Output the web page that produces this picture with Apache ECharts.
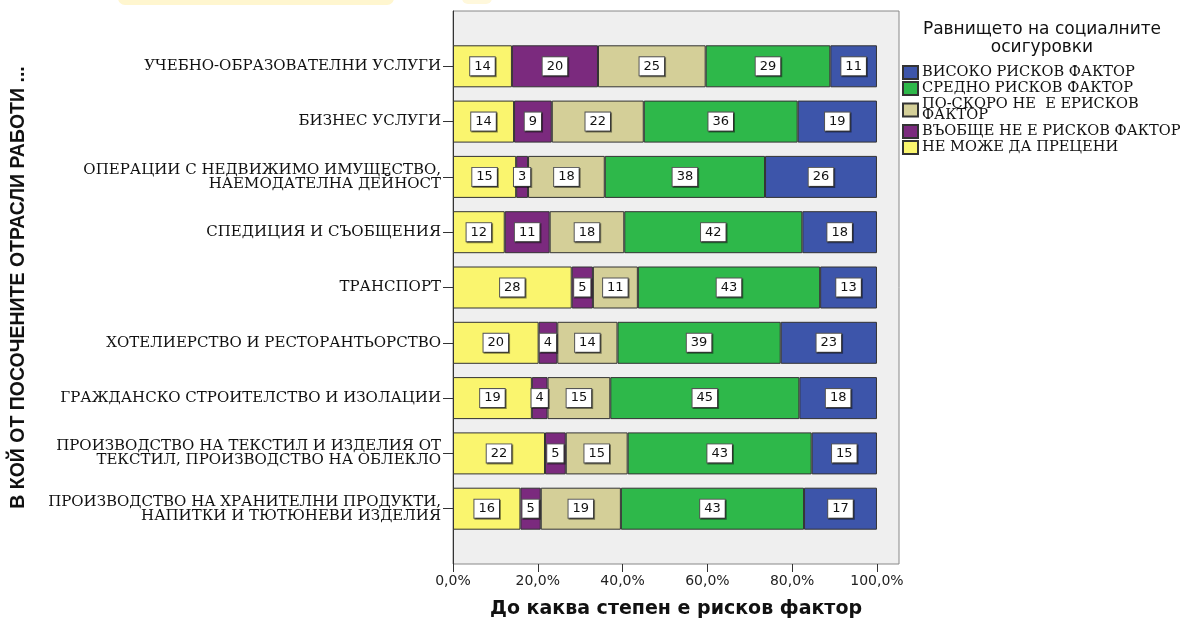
<!DOCTYPE html>
<html>
<head>
<meta charset="utf-8">
<script src="https://cdn.jsdelivr.net/npm/echarts@6/dist/echarts.min.js"></script>
<style>
  html, body { margin: 0; padding: 0; background: #fff; }
  #chart { width: 1190px; height: 624px; }
</style>
</head>
<body>
<div id="chart"></div>
<script>
// Categories, top to bottom
const categories = [
  'УЧЕБНО-ОБРАЗОВАТЕЛНИ УСЛУГИ',
  'БИЗНЕС УСЛУГИ',
  'ОПЕРАЦИИ С НЕДВИЖИМО ИМУЩЕСТВО,\nНАЕМОДАТЕЛНА ДЕЙНОСТ',
  'СПЕДИЦИЯ И СЪОБЩЕНИЯ',
  'ТРАНСПОРТ',
  'ХОТЕЛИЕРСТВО И РЕСТОРАНТЬОРСТВО',
  'ГРАЖДАНСКО СТРОИТЕЛСТВО И ИЗОЛАЦИИ',
  'ПРОИЗВОДСТВО НА ТЕКСТИЛ И ИЗДЕЛИЯ ОТ\nТЕКСТИЛ, ПРОИЗВОДСТВО НА ОБЛЕКЛО',
  'ПРОИЗВОДСТВО НА ХРАНИТЕЛНИ ПРОДУКТИ,\nНАПИТКИ И ТЮТЮНЕВИ ИЗДЕЛИЯ'
];

// Percent shares (stacked left to right)
const cantJudge = [13.9, 14.4, 14.9, 12.2, 28.0, 20.2, 18.6, 21.7, 15.9];
const notAtAll  = [20.3, 8.9, 2.8, 10.6, 5.0, 4.4, 3.7, 4.9, 4.8];
const ratherNot = [25.4, 21.7, 18.1, 17.6, 10.6, 14.2, 14.8, 14.6, 18.9];
const medium    = [29.4, 36.3, 37.8, 42.0, 43.0, 38.5, 44.6, 43.4, 43.2];
const high      = [11.0, 18.7, 26.4, 17.6, 13.4, 22.7, 18.3, 15.4, 17.2];

const xTicks = [0, 20, 40, 60, 80, 100];

const seriesDefs = [
  { name: 'НЕ МОЖЕ ДА ПРЕЦЕНИ', data: cantJudge, color: '#faf56e' },
  { name: 'ВЪОБЩЕ НЕ Е РИСКОВ ФАКТОР', data: notAtAll, color: '#7b2a7e' },
  { name: 'ПО-СКОРО НЕ  Е ЕРИСКОВ\nФАКТОР', data: ratherNot, color: '#d4cf98' },
  { name: 'СРЕДНО РИСКОВ ФАКТОР', data: medium, color: '#2eb84a' },
  { name: 'ВИСОКО РИСКОВ ФАКТОР', data: high, color: '#3d55aa' }
];

// half-band padding above and below the bars
const yData = [''].concat(categories, ['']);
const pad = arr => [null].concat(arr, [null]);

const chart = echarts.init(document.getElementById('chart'));

chart.setOption({
  animation: false,
  grid: {
    left: 453, right: 291, top: 11, bottom: 60,
    show: true, backgroundColor: '#efefef',
    borderColor: '#888', borderWidth: 1
  },
  graphic: [
    { type: 'rect', shape: { x: 118, y: -10, width: 276, height: 15, r: 7 }, style: { fill: '#fff6cf' }, z: -1 },
    { type: 'rect', shape: { x: 462, y: -10, width: 30, height: 14, r: 6 }, style: { fill: '#fff8dc' }, z: -1 },
    {
      type: 'text', x: 1042, y: 21,
      style: {
        text: 'Равнището на социалните\nосигуровки',
        font: '17px "DejaVu Sans"', fill: '#111',
        align: 'center', lineHeight: 18
      }
    }
  ],
  legend: {
    orient: 'vertical', left: 897, top: 60,
    icon: 'rect',
    itemWidth: 15, itemHeight: 13, itemGap: 1,
    data: seriesDefs.map(s => s.name).reverse(),
    textStyle: { fontFamily: 'DejaVu Serif', fontSize: 14.6, color: '#111', lineHeight: 11, padding: [0, 0, 0, -1] }
  },
  xAxis: {
    type: 'value', min: 0, max: 105.2,
    name: 'До каква степен е рисков фактор',
    nameLocation: 'middle', nameGap: 36,
    nameTextStyle: { fontFamily: 'DejaVu Sans', fontWeight: 'bold', fontSize: 19, color: '#111' },
    splitLine: { show: false },
    axisLine: { lineStyle: { color: '#333' } },
    axisTick: { show: true, length: 8, customValues: xTicks, lineStyle: { color: '#333' } },
    axisLabel: {
      customValues: xTicks, margin: 10,
      fontFamily: 'DejaVu Sans', fontSize: 14, color: '#222',
      formatter: v => v.toFixed(1).replace('.', ',') + '%'
    }
  },
  yAxis: {
    type: 'category', inverse: true, boundaryGap: false,
    data: yData,
    name: 'В КОЙ ОТ ПОСОЧЕНИТЕ ОТРАСЛИ РАБОТИ ...',
    nameLocation: 'middle', nameRotate: 90, nameGap: 424,
    nameTextStyle: { fontFamily: 'Liberation Sans', fontWeight: 'bold', fontSize: 19.5, color: '#111' },
    axisLine: { lineStyle: { color: '#333' } },
    axisTick: {
      length: 10, lineStyle: { color: '#333' },
      interval: (i, v) => v !== ''
    },
    axisLabel: {
      interval: 0, margin: 12,
      fontFamily: 'DejaVu Serif', fontSize: 15, color: '#111',
      lineHeight: 14, align: 'right'
    }
  },
  series: seriesDefs.map(s => ({
    name: s.name,
    type: 'bar',
    stack: 'total',
    barWidth: 42,
    data: pad(s.data),
    itemStyle: { color: s.color, borderColor: '#333', borderWidth: 1 },
    label: {
      show: true, position: 'inside',
      formatter: p => Math.round(p.value),
      fontFamily: 'DejaVu Sans', fontSize: 13, color: '#111',
      backgroundColor: '#fff', borderColor: '#555', borderWidth: 1,
      padding: [3, 4, 2, 4],
      shadowColor: 'rgba(0,0,0,0.45)', shadowOffsetX: 1, shadowOffsetY: 1
    }
  }))
});
</script>
</body>
</html>
